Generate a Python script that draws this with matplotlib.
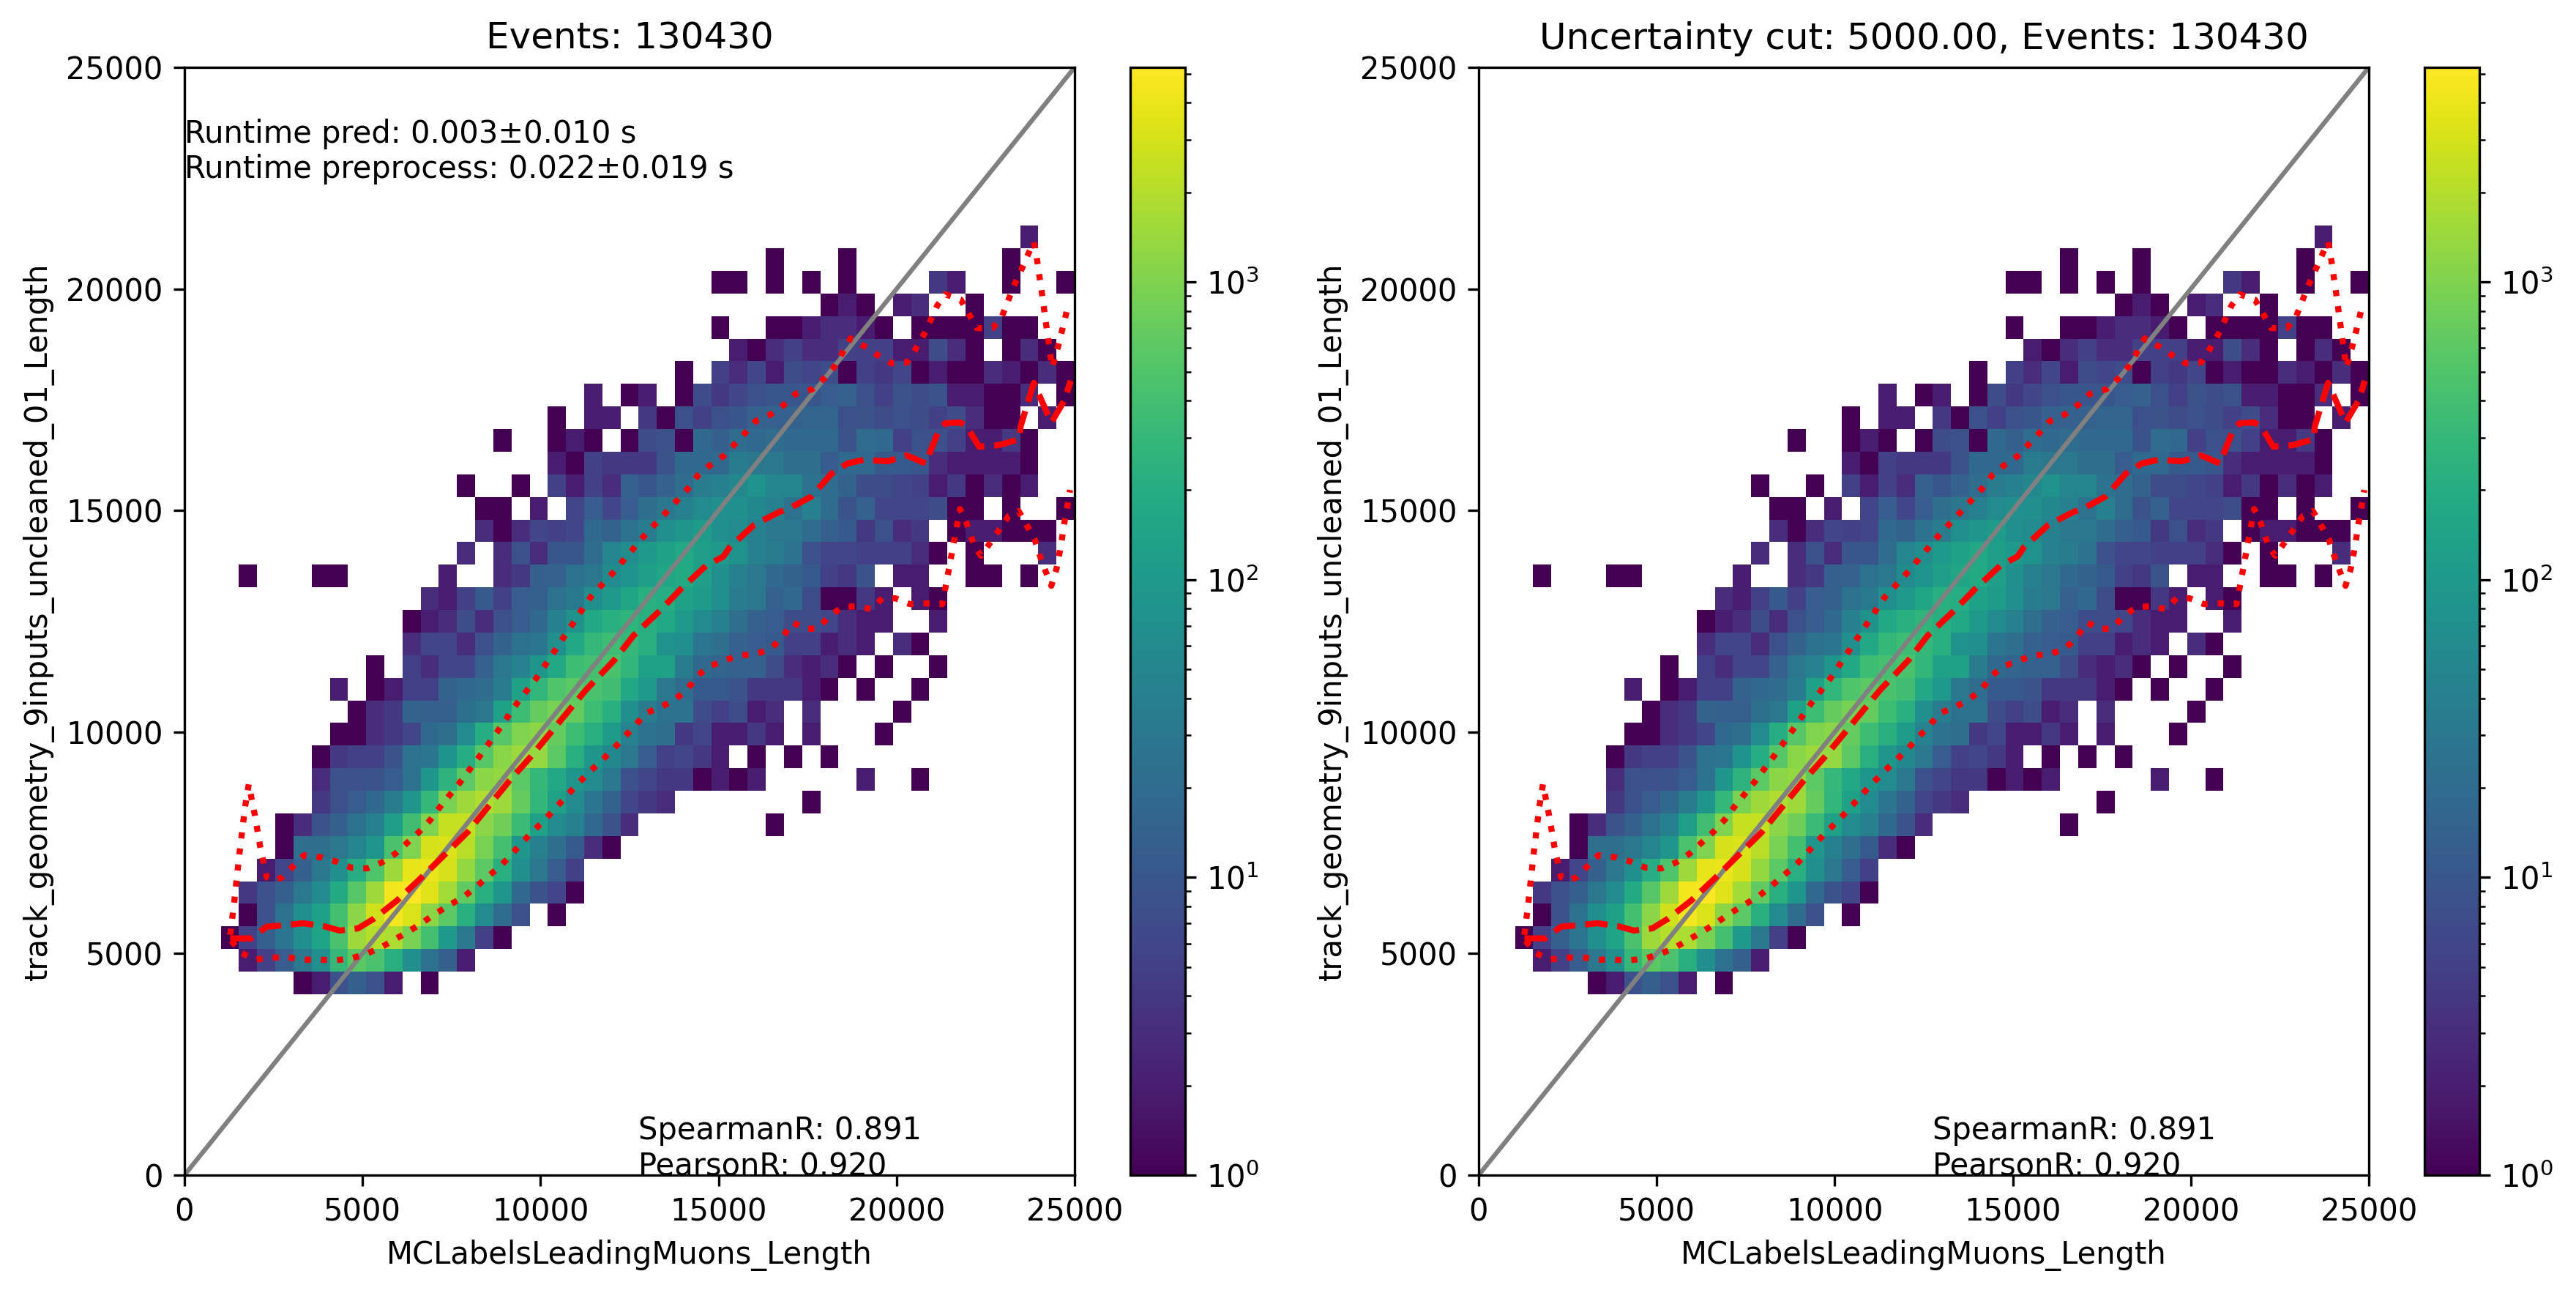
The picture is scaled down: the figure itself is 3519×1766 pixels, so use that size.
import numpy as np
import matplotlib
matplotlib.use('Agg')
import matplotlib.pyplot as plt
from matplotlib.colors import LogNorm

n_edges = 50
axis_max = 25000

# counts per y bin: row index -> (first x bin, counts), 0 = empty
hist_rows = {
    8: (6, [1, 2, 8, 13, 8, 2, 0, 1]),
    9: (3, [2, 5, 12, 30, 70, 300, 600, 450, 220, 70, 25, 13, 2]),
    10: (2, [1, 5, 13, 28, 70, 150, 450, 1500, 2000, 1800, 900, 400, 100, 30, 5, 1]),
    11: (3, [1, 8, 25, 70, 130, 400, 1200, 2800, 4500, 3200, 1200, 600, 220, 60, 20, 8, 0, 1]),
    12: (3, [4, 8, 13, 30, 60, 180, 550, 1500, 4500, 5260, 3500, 1600, 650, 220, 90, 18, 9, 6, 1]),
    13: (4, [2, 6, 13, 30, 70, 200, 500, 1500, 3800, 4000, 3000, 1300, 600, 220, 70, 30, 12, 5]),
    14: (5, [1, 22, 22, 30, 50, 90, 450, 1000, 3000, 3200, 2200, 900, 400, 90, 40, 22, 11, 3, 1]),
    15: (5, [1, 3, 9, 13, 25, 40, 120, 380, 1000, 2500, 2500, 1200, 800, 330, 130, 60, 40, 18, 9, 3,
             0, 0, 0, 0, 0, 0, 0, 1]),
    16: (7, [4, 8, 12, 18, 35, 90, 300, 900, 1500, 1900, 1500, 700, 280, 130, 60, 28, 15, 6, 4, 3,
             0, 0, 0, 0, 0, 0, 0, 1]),
    17: (7, [3, 8, 8, 9, 12, 25, 90, 250, 600, 1200, 1300, 600, 300, 170, 90, 60, 30, 8, 6, 4, 4, 1, 2, 1, 2,
             0, 0, 0, 0, 0, 2, 0, 0, 1]),
    18: (7, [1, 4, 5, 5, 9, 25, 28, 85, 200, 550, 1150, 1450, 1350, 600, 220, 90, 55, 30, 12, 5, 6, 4, 2, 0, 1,
             0, 1, 0, 1]),
    19: (8, [1, 1, 3, 4, 6, 18, 22, 60, 200, 550, 1000, 1200, 700, 350, 220, 110, 45, 25, 22, 4, 6, 2, 2, 4, 2,
             0, 2, 0, 0, 0, 1]),
    20: (9, [1, 3, 4, 15, 13, 13, 23, 30, 130, 350, 700, 900, 700, 350, 220, 70, 35, 25, 25, 7, 5, 7, 2, 3,
             0, 3, 0, 0, 0, 0, 1]),
    21: (8, [2, 0, 1, 2, 5, 5, 15, 18, 20, 35, 130, 280, 500, 600, 450, 380, 170, 100, 30, 20, 11, 11, 9, 4, 4, 4,
             2, 1, 0, 1, 0, 0, 1]),
    22: (10, [1, 0, 5, 3, 6, 6, 14, 30, 45, 90, 170, 350, 400, 450, 280, 130, 130, 35, 18, 16, 14, 14, 7, 3, 2, 3,
              1, 0, 1, 0, 0, 1]),
    23: (12, [3, 6, 6, 3, 8, 15, 25, 28, 70, 170, 300, 350, 300, 220, 80, 70, 28, 22, 14, 12, 11, 5, 5, 2, 3, 2,
              0, 3, 1]),
    24: (12, [1, 2, 3, 7, 3, 8, 12, 18, 40, 80, 170, 230, 260, 220, 170, 100, 60, 40, 22, 14, 12, 7, 7, 6, 3, 2, 2,
              0, 0, 2]),
    25: (13, [3, 2, 5, 11, 5, 12, 13, 25, 32, 70, 100, 160, 225, 200, 130, 110, 70, 35, 30, 14, 18, 7, 1, 1, 4, 2,
              0, 2, 1]),
    26: (3, [1, 0, 0, 0, 1, 1, 0, 0, 0, 0, 0, 2, 0, 0, 3, 4, 13, 14, 25, 30, 60, 85, 120, 160, 180, 120, 70, 40, 30,
             18, 15, 11, 5, 4, 9, 0, 2, 2, 0, 0, 1, 1, 0, 1]),
    27: (15, [3, 0, 3, 8, 3, 10, 10, 20, 50, 65, 100, 130, 170, 120, 100, 80, 40, 35, 25, 8, 6, 6, 5, 5, 5, 3, 1,
              0, 1, 0, 0, 0, 3]),
    28: (16, [3, 1, 3, 6, 5, 6, 18, 15, 25, 35, 70, 90, 110, 70, 60, 40, 30, 30, 20, 13, 11, 4, 8, 3, 4, 0, 1, 2, 2,
              1, 1, 1]),
    29: (16, [1, 1, 0, 2, 0, 6, 12, 6, 12, 22, 30, 40, 60, 70, 70, 55, 40, 25, 40, 20, 9, 14, 6, 6, 6, 7, 1, 1, 0, 1,
              0, 0, 1]),
    30: (15, [1, 0, 0, 1, 0, 5, 2, 5, 3, 14, 10, 14, 20, 35, 40, 55, 80, 50, 50, 25, 20, 15, 7, 7, 6, 5, 2, 4, 1, 3,
              1, 2]),
    31: (20, [2, 1, 5, 4, 4, 4, 9, 18, 18, 18, 35, 30, 30, 22, 22, 12, 18, 18, 11, 11, 10, 3, 2, 2, 2, 2, 1]),
    32: (17, [1, 0, 0, 1, 2, 1, 0, 1, 7, 8, 1, 18, 13, 20, 18, 20, 18, 18, 18, 9, 20, 18, 5, 8, 8, 5, 2, 2, 4, 1]),
    33: (20, [1, 0, 2, 2, 0, 4, 1, 8, 5, 8, 10, 14, 14, 14, 16, 16, 8, 9, 7, 8, 7, 5, 7, 3, 1, 1, 0, 2]),
    34: (22, [2, 0, 1, 2, 0, 1, 7, 4, 6, 8, 10, 10, 10, 12, 14, 8, 5, 9, 7, 9, 2, 2, 1, 1, 3, 0, 1]),
    35: (27, [1, 0, 5, 3, 6, 2, 7, 6, 7, 1, 5, 4, 6, 1, 2, 1, 1, 3, 2, 1, 3, 1]),
    36: (30, [2, 1, 3, 5, 3, 3, 5, 5, 5, 2, 2, 7, 3, 1, 0, 1, 3, 1]),
    37: (29, [1, 0, 0, 1, 1, 2, 3, 3, 2, 1, 0, 1, 1, 1, 1, 5, 1, 1]),
    38: (35, [1, 2, 1, 0, 2, 3, 0, 0, 1]),
    39: (29, [1, 1, 0, 1, 0, 1, 0, 1, 0, 0, 0, 0, 4, 2, 0, 0, 1, 0, 0, 1]),
    40: (32, [1, 0, 0, 0, 1, 0, 0, 0, 0, 0, 0, 0, 0, 1]),
    41: (46, [2]),
}

# median and percentile curves
median_x = [1284, 1866, 2309, 2670, 3335, 3917, 4360, 4873, 5312, 5968, 6624, 7949, 9120, 9700, 10295, 11259, 12070,
            12611, 13329, 13965, 14643, 15134, 15319, 15996, 16673, 17041, 17615, 18169, 18620, 19071, 19748, 20281,
            20825, 20960, 21186, 21370, 21780, 21956, 22130, 22315, 22860, 23443, 23485, 23854, 24346, 24713, 24888]
median_y = [5342, 5342, 5606, 5630, 5684, 5618, 5519, 5568, 5783, 6196, 6692, 7739, 8895, 9418, 9997, 10935, 11620,
            12176, 12721, 13246, 13750, 13960, 14177, 14673, 14954, 15070, 15318, 15830, 16060, 16143, 16110, 16243,
            16060, 16358, 16804, 16969, 16986, 16903, 16688, 16440, 16473, 16606, 16903, 17878, 16986, 17482, 17928]

upper_x = [1284, 1395, 1538, 1702, 1805, 1979, 2133, 2309, 2523, 2748, 3077, 3364, 3848, 4287, 4689, 5128, 5538, 5919,
           6256, 6594, 6902, 7179, 7745, 8286, 8819, 9332, 9886, 11395, 12019, 12894, 13823, 14131, 14418, 14747,
           15134, 15443, 15751, 16039, 16459, 16839, 17167, 17618, 17959, 18254, 18480, 18705, 19095, 19474, 19854,
           20285, 20541, 20767, 20960, 21146, 21370, 21801, 22027, 22253, 22700, 22950, 23115, 23280, 23474, 23650,
           23854, 23925, 23989, 24058, 24120, 24181, 24242, 24305, 24366, 24489, 24602, 24715, 24817]
upper_y = [5424, 6145, 7220, 8310, 8822, 8111, 7385, 6724, 6640, 6724, 6988, 7220, 7170, 7071, 6938, 6922, 7054, 7252,
           7500, 7748, 8012, 8310, 8871, 9450, 10044, 10639, 11217, 13034, 13580, 14411, 15215, 15484, 15793, 16013,
           16225, 16487, 16752, 17017, 17164, 17385, 17633, 17732, 17974, 18243, 18557, 18883, 18706, 18503, 18321,
           18337, 18651, 18970, 19300, 19630, 19878, 19757, 19444, 19114, 19119, 19360, 19698, 20044, 20374, 20704,
           21063, 20770, 20403, 20044, 19676, 19317, 18953, 18602, 18227, 18557, 18915, 19278, 19630]

lower_x = [1320, 1611, 1979, 2420, 2880, 3330, 3774, 4225, 4668, 5107, 5517, 5907, 6309, 6686, 7055, 7445, 7835, 8198,
           8532, 8880, 9188, 9496, 9816, 10132, 10440, 10747, 11055, 11377, 11711, 12039, 12347, 12655, 12955, 13372,
           13783, 14131, 14398, 14747, 15169, 15620, 16071, 16490, 16811, 17085, 17454, 17802, 18102, 18480, 18890,
           19294, 19607, 19970, 20377, 20827, 21281, 21370, 21452, 21534, 21616, 21698, 21778, 21911, 22048, 22200,
           22376, 22635, 22888, 23157, 23426, 23650, 23875, 24007, 24169, 24346, 24485, 24571, 24647, 24715, 24796,
           24872]
lower_y = [5285, 5010, 4862, 4906, 4921, 4862, 4862, 4846, 4888, 4994, 5138, 5319, 5506, 5699, 5903, 6096, 6278, 6509,
           6745, 6977, 7241, 7517, 7781, 8034, 8298, 8574, 8838, 9103, 9351, 9615, 9879, 10148, 10424, 10561,
           10738, 10969, 11267, 11481, 11619, 11729, 11762, 11894, 12159, 12473, 12324, 12341, 12610, 12820, 12837,
           12775, 13023, 13017, 12886, 12903, 12886, 13249, 13601, 13960, 14323, 14674, 15033, 14852, 14511, 14164,
           13977, 14278, 14576, 14884, 14989, 14674, 14356, 14014, 13662, 13299, 13662, 14014, 14373, 14736, 15100,
           15463]

titles = ['Events: 130430', 'Uncertainty cut: 5000.00, Events: 130430']
xlabel = 'MCLabelsLeadingMuons_Length'
ylabel = 'track_geometry_9inputs_uncleaned_01_Length'
runtime_text = 'Runtime pred: 0.003\u00b10.010 s\nRuntime preprocess: 0.022\u00b10.019 s'
corr_text = 'SpearmanR: 0.891\nPearsonR: 0.920'

W, H = 3520, 1766
fig = plt.figure(figsize=(W / 300, H / 300), dpi=300)

edges = np.linspace(0, axis_max, n_edges)
counts = np.zeros((n_edges - 1, n_edges - 1))
for row, (start, vals) in hist_rows.items():
    counts[row, start:start + len(vals)] = vals
counts = np.ma.masked_equal(counts, 0)


def draw_panel(left_px, cbar_px, title, with_runtime):
    ax = fig.add_axes([left_px / W, (H - 1605) / H, 1216 / W, 1513 / H])
    cax = fig.add_axes([cbar_px / W, (H - 1605) / H, 75 / W, 1513 / H])
    mesh = ax.pcolormesh(edges, edges, counts, norm=LogNorm(vmin=1, vmax=5260), cmap='viridis')
    fig.colorbar(mesh, cax=cax)
    ax.plot([0, axis_max], [0, axis_max], color='gray')
    ax.plot(median_x, median_y, color='red', ls='--', lw=2)
    ax.plot(upper_x, upper_y, color='red', ls=':', lw=2)
    ax.plot(lower_x, lower_y, color='red', ls=':', lw=2)
    ax.set_xlim(0, axis_max)
    ax.set_ylim(0, axis_max)
    ax.set_xticks(range(0, axis_max + 1, 5000))
    ax.set_yticks(range(0, axis_max + 1, 5000))
    ax.set_xlabel(xlabel)
    ax.set_ylabel(ylabel)
    ax.set_title(title)
    ax.text(12750, 0, corr_text)
    if with_runtime:
        ax.text(0, 22500, runtime_text)


draw_panel(252, 1544, titles[0], True)
draw_panel(2020, 3312, titles[1], False)

fig.savefig('out.png', dpi=300)
